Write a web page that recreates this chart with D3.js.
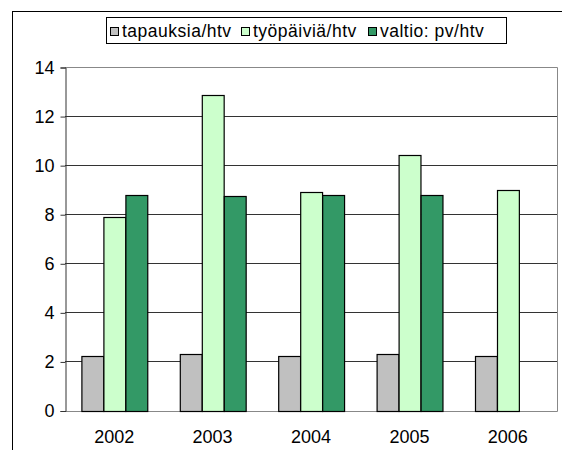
<!DOCTYPE html>
<html>
<head>
<meta charset="utf-8">
<script src="https://cdn.jsdelivr.net/npm/d3@7"></script>
<style>
  body { margin: 0; background: #fff; }
  svg text { font-family: "Liberation Sans", Arial, sans-serif; fill: #000; }
</style>
</head>
<body>
<svg id="chart" width="562" height="450"></svg>
<script>
//Data
var years = ["2002", "2003", "2004", "2005", "2006"];
var seriesNames = ["tapauksia/htv", "työpäiviä/htv", "valtio: pv/htv"];
var seriesColors = ["#C0C0C0", "#CCFFCC", "#339966"];
var tapauksia = [2.22, 2.29, 2.22, 2.29, 2.22];
var tyopaivia = [7.89, 12.84, 8.90, 10.41, 9.0];
var valtio = [8.78, 8.73, 8.78, 8.78, null];
var yTicks = [0, 2, 4, 6, 8, 10, 12, 14];

var series = [tapauksia, tyopaivia, valtio];

var svg = d3.select("#chart");

//Outer chart border (runs off the right and bottom edge)
svg.append("rect")
	.attr("x", 12.5).attr("y", 11.5)
	.attr("width", 600).attr("height", 500)
	.attr("fill", "#fff").attr("stroke", "#000");

var plot = {left: 65, right: 557, top: 67, bottom: 410.5};

var x = d3.scaleBand()
	.domain(years)
	.range([plot.left, plot.right])
	.paddingInner(1/3).paddingOuter(1/6);

var xSub = d3.scaleBand()
	.domain(d3.range(series.length))
	.range([0, x.bandwidth()]);

var y = d3.scaleLinear()
	.domain([0, 14])
	.range([plot.bottom, plot.top]);

//Gridlines
svg.append("g")
	.selectAll("line")
	.data(yTicks.filter(function(d) { return d > 0 && d < 14; }))
	.enter().append("line")
	.attr("x1", plot.left).attr("x2", plot.right)
	.attr("y1", function(d) { return Math.round(y(d)) + 0.5; })
	.attr("y2", function(d) { return Math.round(y(d)) + 0.5; })
	.attr("stroke", "#333");

//Plot area border (grey)
svg.append("path")
	.attr("d", "M" + plot.left + "," + (Math.round(plot.top) + 0.5) +
		"H" + (plot.right + 0.5) + "V" + (Math.round(plot.bottom) + 0.5) + "H" + plot.left)
	.attr("fill", "none").attr("stroke", "#888");

//Bars
var groups = svg.append("g")
	.selectAll("g")
	.data(years)
	.enter().append("g")
	.attr("transform", function(d) { return "translate(" + x(d) + ",0)"; });

groups.selectAll("rect")
	.data(function(d, i) {
		return series.map(function(s, k) { return {k: k, v: s[i]}; })
			.filter(function(e) { return e.v != null; });
	})
	.enter().append("rect")
	.attr("x", function(d) { return Math.round(xSub(d.k)) + 0.5; })
	.attr("y", function(d) { return Math.round(y(d.v)) + 0.5; })
	.attr("width", xSub.bandwidth())
	.attr("height", function(d) { return Math.round(plot.bottom) - Math.round(y(d.v)); })
	.attr("fill", function(d) { return seriesColors[d.k]; })
	.attr("stroke", "#000")
	.attr("stroke-width", 1.2);

//Y axis
var yAxis = svg.append("g")
	.attr("transform", "translate(" + (plot.left + 0.5) + ",0.5)")
	.call(d3.axisLeft(y).tickValues(yTicks).tickSize(5).tickPadding(6).tickFormat(d3.format("d")));
yAxis.select(".domain").attr("stroke", "#333");
yAxis.selectAll(".tick line").attr("stroke", "#333");
yAxis.selectAll(".tick text")
	.style("font-size", "18px")
	.attr("font-family", null);

//X axis labels (no ticks)
svg.append("g")
	.selectAll("text")
	.data(years)
	.enter().append("text")
	.attr("x", function(d) { return x(d) + x.bandwidth() / 2; })
	.attr("y", 443)
	.attr("text-anchor", "middle")
	.style("font-size", "18px")
	.text(function(d) { return d; });

//Legend
var legend = svg.append("g");
legend.append("rect")
	.attr("x", 106.5).attr("y", 17.5)
	.attr("width", 400).attr("height", 26)
	.attr("fill", "#fff").attr("stroke", "#000");

var legendX = [110, 241, 368];
var items = legend.selectAll(".item")
	.data(seriesNames)
	.enter().append("g")
	.attr("class", "item")
	.attr("transform", function(d, i) { return "translate(" + legendX[i] + ",0)"; });
items.append("rect")
	.attr("x", 0.5).attr("y", 27.5)
	.attr("width", 8).attr("height", 8)
	.attr("fill", function(d, i) { return seriesColors[i]; })
	.attr("stroke", "#000");
items.append("text")
	.attr("x", 12).attr("y", 37)
	.style("font-size", "17.5px")
	.style("letter-spacing", "0.5px")
	.text(function(d) { return d; });
</script>
</body>
</html>
